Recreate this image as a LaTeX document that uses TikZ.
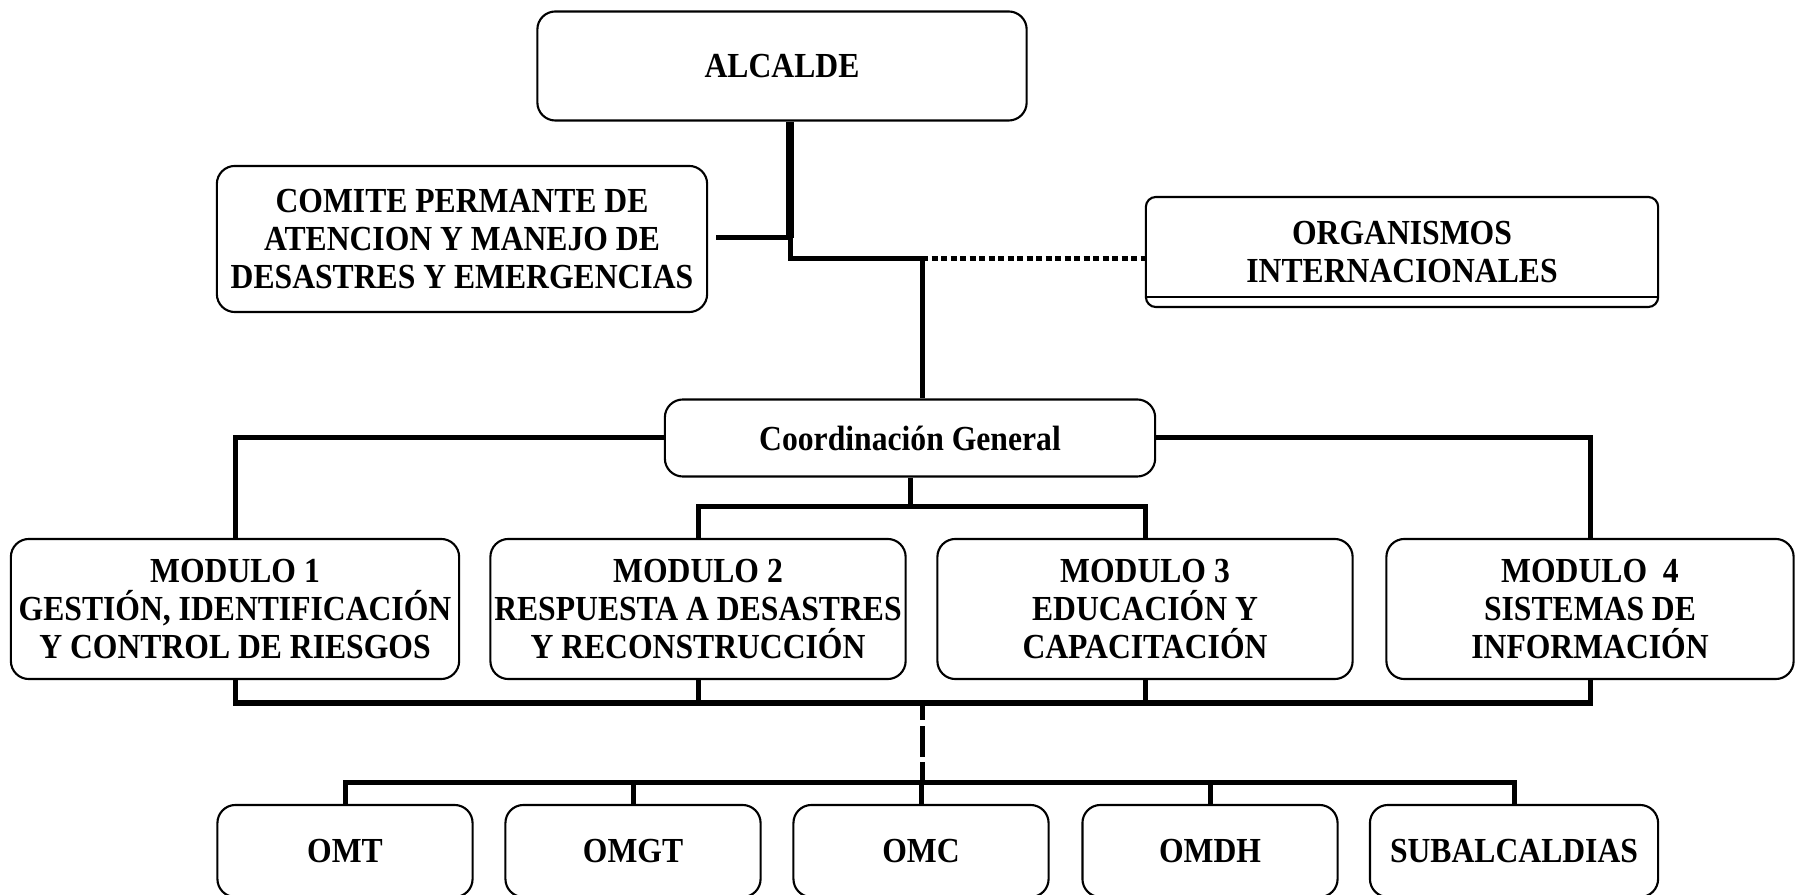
\documentclass[tikz,border=0pt]{standalone}
\usepackage{fontspec}
\setmainfont{Liberation Serif}[FakeStretch=0.9]

\begin{document}
\begin{tikzpicture}[x=0.01cm,y=-0.01cm,
    box/.style={draw,rounded corners=0.18cm,line width=0.6pt,align=center,inner sep=0pt,
        font=\fontsize{10}{10.8}\selectfont\bfseries},
    link/.style={line width=0.05cm},
    heavy/.style={line width=0.08cm},
    dots/.style={line width=0.05cm,dash pattern=on 0.06cm off 0.035cm},
    cut/.style={line width=0.05cm,dash pattern=on 0.17cm off 0.06cm on 0.31cm off 0.05cm on 0.3cm}]
\useasboundingbox (0,0) rectangle (1795,895);
% top
\node[box,minimum width=4.89cm,minimum height=1.09cm] (alcalde) at (782,66) {ALCALDE};
\node[box,minimum width=4.9cm,minimum height=1.46cm] (comite) at (462,239)
    {COMITE PERMANTE DE\\ATENCION Y MANEJO DE\\DESASTRES Y EMERGENCIAS};
\node[box,rounded corners=0.1cm,minimum width=5.12cm,minimum height=1.1cm] (organismos) at (1402,252)
    {ORGANISMOS\\INTERNACIONALES};
\draw[line width=0.6pt] ([yshift=0.11cm]organismos.south west) -- ([yshift=0.11cm]organismos.south east);
\node[box,minimum width=4.9cm,minimum height=0.77cm] (coord) at (910,438) {Coordinación General};
% modulos
\node[box,minimum width=4.48cm,minimum height=1.4cm] (mod1) at (235,609)
    {MODULO 1\\GESTIÓN, IDENTIFICACIÓN\\Y CONTROL DE RIESGOS};
\node[box,minimum width=4.15cm,minimum height=1.4cm] (mod2) at (698,609)
    {MODULO 2\\RESPUESTA A DESASTRES\\Y RECONSTRUCCIÓN};
\node[box,minimum width=4.15cm,minimum height=1.4cm] (mod3) at (1145,609)
    {MODULO 3\\EDUCACIÓN Y\\CAPACITACIÓN};
\node[box,minimum width=4.07cm,minimum height=1.4cm] (mod4) at (1590,609)
    {MODULO~~4\\SISTEMAS DE\\INFORMACIÓN};
% oficinas
\foreach \n/\x/\w/\t in {omt/345/2.55/OMT,omgt/633/2.55/OMGT,omc/921/2.55/OMC,
    omdh/1210/2.55/OMDH,subalc/1514/2.88/SUBALCALDIAS}
    \node[box,minimum width=\w cm,minimum height=0.92cm] (\n) at (\x,851) {\t};
% junctions
\coordinate (jc) at (790,238);
\coordinate (jt) at (790,259);
\coordinate (jo) at (922,259);
\coordinate (jm) at (910,507);
\coordinate (jb) at (922,703);
\coordinate (jl) at (922,782);
% connectors
\draw[heavy] (alcalde.south -| jc) -- (jc);
\draw[link,shorten <=0.08cm] (comite.east |- jc) -- (jc);
\draw[link] (jc) -- (jt) -- (jo) -- (coord.north -| jo);
\draw[dots] (jo) -- (organismos.west |- jo);
\draw[link] (coord.west) -| (mod1.north);
\draw[link] (coord.east) -| (mod4.north);
\draw[link] (coord.south) -- (jm);
\draw[link] (mod2.north) |- (jm) -| (mod3.north);
\draw[link] (mod1.south) |- (mod4.south |- jb) -- (mod4.south);
\foreach \n in {mod2,mod3}
    \draw[link] (\n.south) -- (\n.south |- jb);
\draw[cut] (jb) -- (jl);
\draw[link] (omt.north) |- (jl) -| (subalc.north);
\foreach \n in {omgt,omc,omdh}
    \draw[link] (\n.north) -- (\n.north |- jl);
\end{tikzpicture}
\end{document}
